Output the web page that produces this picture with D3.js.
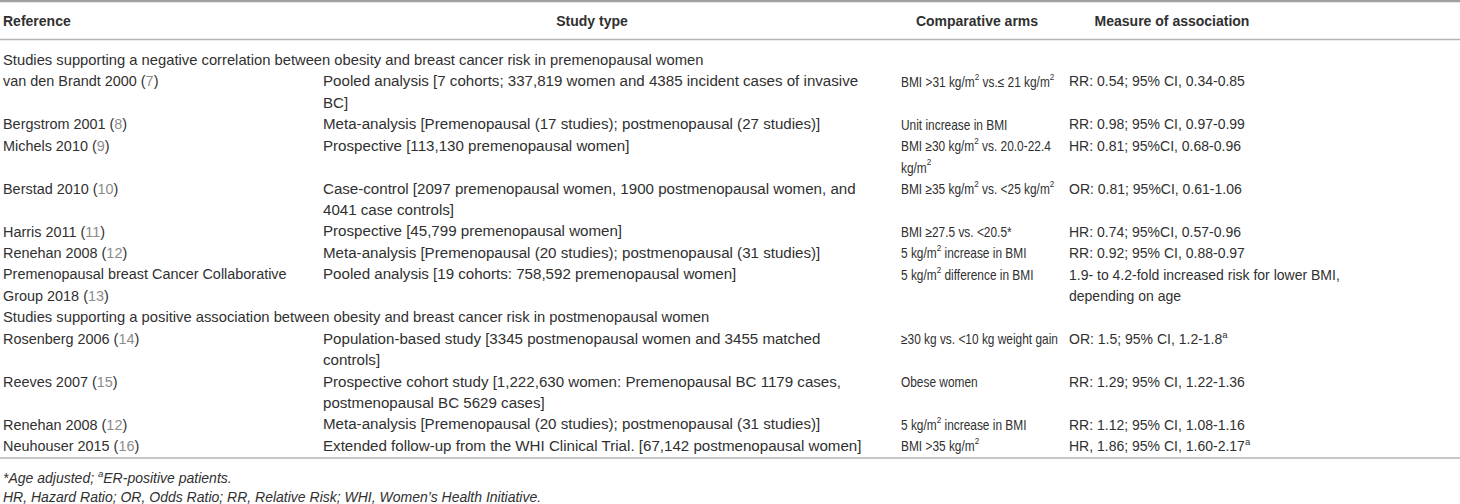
<!DOCTYPE html>
<html>
<head>
<meta charset="utf-8">
<script src="https://cdn.jsdelivr.net/npm/d3@7"></script>
<style>
  body { margin: 0; background: #fff; }
  svg text { font-family: "Liberation Sans", Arial, sans-serif; font-size: 14px; fill: #303030; }
</style>
</head>
<body>
<svg id="table" width="1460" height="504"></svg>
<script>
// 表格数据 (^x^ = superscript, (n) = citation)
const columns = ["Reference", "Study type", "Comparative arms", "Measure of association"]
const groups = [
  "Studies supporting a negative correlation between obesity and breast cancer risk in premenopausal women",
  "Studies supporting a positive association between obesity and breast cancer risk in postmenopausal women"
]
const rowGroup = [0, 0, 0, 0, 0, 0, 0, 1, 1, 1, 1]
const references = [
  ["van den Brandt 2000 (7)"],
  ["Bergstrom 2001 (8)"],
  ["Michels 2010 (9)"],
  ["Berstad 2010 (10)"],
  ["Harris 2011 (11)"],
  ["Renehan 2008 (12)"],
  ["Premenopausal breast Cancer Collaborative", "Group 2018 (13)"],
  ["Rosenberg 2006 (14)"],
  ["Reeves 2007 (15)"],
  ["Renehan 2008 (12)"],
  ["Neuhouser 2015 (16)"]
]
const studyTypes = [
  ["Pooled analysis [7 cohorts; 337,819 women and 4385 incident cases of invasive", "BC]"],
  ["Meta-analysis [Premenopausal (17 studies); postmenopausal (27 studies)]"],
  ["Prospective [113,130 premenopausal women]"],
  ["Case-control [2097 premenopausal women, 1900 postmenopausal women, and", "4041 case controls]"],
  ["Prospective [45,799 premenopausal women]"],
  ["Meta-analysis [Premenopausal (20 studies); postmenopausal (31 studies)]"],
  ["Pooled analysis [19 cohorts: 758,592 premenopausal women]"],
  ["Population-based study [3345 postmenopausal women and 3455 matched", "controls]"],
  ["Prospective cohort study [1,222,630 women: Premenopausal BC 1179 cases,", "postmenopausal BC 5629 cases]"],
  ["Meta-analysis [Premenopausal (20 studies); postmenopausal (31 studies)]"],
  ["Extended follow-up from the WHI Clinical Trial. [67,142 postmenopausal women]"]
]
const comparativeArms = [
  ["BMI >31 kg/m^2^ vs.\u2264 21 kg/m^2^"],
  ["Unit increase in BMI"],
  ["BMI \u226530 kg/m^2^ vs. 20.0-22.4", "kg/m^2^"],
  ["BMI \u226535 kg/m^2^ vs. <25 kg/m^2^"],
  ["BMI \u226527.5 vs. <20.5*"],
  ["5 kg/m^2^ increase in BMI"],
  ["5 kg/m^2^ difference in BMI"],
  ["\u226530 kg vs. <10 kg weight gain"],
  ["Obese women"],
  ["5 kg/m^2^ increase in BMI"],
  ["BMI >35 kg/m^2^"]
]
const measures = [
  ["RR: 0.54; 95% CI, 0.34-0.85"],
  ["RR: 0.98; 95% CI, 0.97-0.99"],
  ["HR: 0.81; 95%CI, 0.68-0.96"],
  ["OR: 0.81; 95%CI, 0.61-1.06"],
  ["HR: 0.74; 95%CI, 0.57-0.96"],
  ["RR: 0.92; 95% CI, 0.88-0.97"],
  ["1.9- to 4.2-fold increased risk for lower BMI,", "depending on age"],
  ["OR: 1.5; 95% CI, 1.2-1.8^a^"],
  ["RR: 1.29; 95% CI, 1.22-1.36"],
  ["RR: 1.12; 95% CI, 1.08-1.16"],
  ["HR, 1.86; 95% CI, 1.60-2.17^a^"]
]
const footnotes = [
  "*Age adjusted; ^a^ER-positive patients.",
  "HR, Hazard Ratio; OR, Odds Ratio; RR, Relative Risk; WHI, Women\u2019s Health Initiative."
]

const width = 1460
const svg = d3.select("#table")

// 列位置、字号、横向压缩、行位置
const colX = d3.scaleOrdinal().domain(columns).range([3, 323, 901, 1069])
const colStretch = d3.scaleOrdinal().domain(columns).range([1.03, 1.08, 0.85, 1.0])
const colSize = d3.scaleOrdinal().domain(columns).range([14, 14, 13.4, 14])
const headX = d3.scaleOrdinal().domain(columns).range([3, 592, 977, 1172])
const lineY = d3.scaleLinear().domain([0, 1]).range([60, 81.45])

// 富文本: 上标 + 灰色引用号
function rich(sel, str) {
  const re = /\^([^^]+)\^|(\(\d+\))/g
  let last = 0, m
  let raised = false
  while ((m = re.exec(str)) !== null) {
    if (m.index > last) {
      sel.append("tspan").attr("dy", raised ? 5 : null).text(str.slice(last, m.index))
      raised = false
    }
    if (m[1]) {
      sel.append("tspan").attr("dy", raised ? 0 : -5).attr("font-size", 9.5).text(m[1])
      raised = true
    } else {
      sel.append("tspan").attr("dy", raised ? 5 : null).text("(")
      sel.append("tspan").attr("fill", "#8c8c8c").text(m[2].slice(1, -1))
      sel.append("tspan").text(")")
      raised = false
    }
    last = re.lastIndex
  }
  if (last < str.length) sel.append("tspan").attr("dy", raised ? 5 : null).text(str.slice(last))
}

function cellText(x, y, sx, size) {
  return svg.append("text")
     .attr("transform", "translate(" + x + "," + y + ") scale(" + sx + ",1)")
     .attr("font-size", size || 14)
     .attr("dominant-baseline", "central")
}

// 横线
const rules = [1.2, 39.5, 458]
svg.selectAll("line.rule").data(rules).join("line")
   .attr("class", "rule")
   .attr("x1", 0).attr("x2", width)
   .attr("y1", d => d).attr("y2", d => d)
   .attr("stroke", (d, i) => i === 0 ? "#a0a0a0" : "#b4b4b4")
   .attr("stroke-width", (d, i) => i === 0 ? 2.2 : 1.6)

// 表头
svg.selectAll("text.head").data(columns).join("text")
   .attr("class", "head")
   .attr("x", d => headX(d))
   .attr("y", 20.5)
   .attr("dominant-baseline", "central")
   .attr("text-anchor", (d, i) => i === 0 ? "start" : "middle")
   .attr("font-weight", "bold")
   .text(d => d)

// 表体
let line = 0
const cells = [references, studyTypes, comparativeArms, measures]
let prevGroup = -1
rowGroup.forEach((g, r) => {
  if (g !== prevGroup) {
    cellText(colX(columns[0]), lineY(line), 1.055).text(groups[g])
    line += 1
    prevGroup = g
  }
  let span = 1
  cells.forEach((col, c) => {
    const key = columns[c]
    col[r].forEach((txt, k) => {
      rich(cellText(colX(key), lineY(line + k), colStretch(key), colSize(key)), txt)
    })
    span = Math.max(span, col[r].length)
  })
  line += span
})

// 脚注
footnotes.forEach((f, i) => {
  const t = svg.append("text")
     .attr("x", 3)
     .attr("y", 477.5 + i * 19.5)
     .attr("dominant-baseline", "central")
     .attr("font-style", "italic")
  rich(t, f)
})
</script>
</body>
</html>
